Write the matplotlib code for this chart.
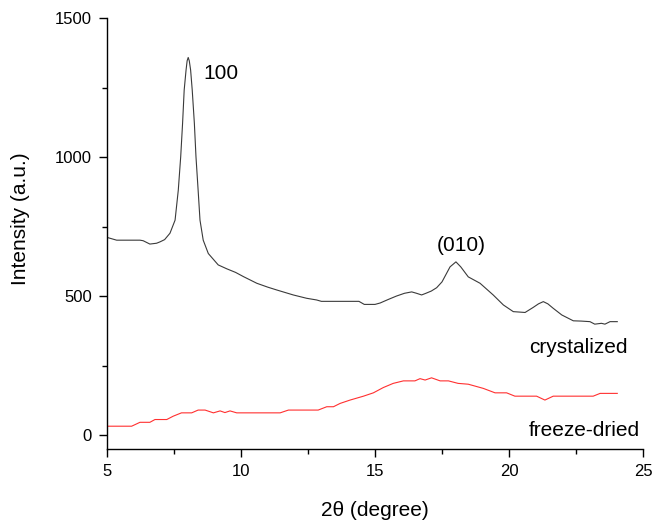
import matplotlib
matplotlib.use("Agg")
import matplotlib.pyplot as plt
from matplotlib.ticker import MultipleLocator

plt.rcParams['font.family'] = ['Liberation Sans', 'DejaVu Sans']

cryst_x = [5.0, 5.36, 6.23, 6.35, 6.6, 6.85, 6.98, 7.15, 7.35, 7.54, 7.66, 7.75, 7.82,
           7.88, 7.95, 7.99, 8.03, 8.07, 8.12, 8.18, 8.26, 8.32, 8.4, 8.47, 8.59, 8.78,
           9.15, 9.47, 9.8, 10.09, 10.59, 11.0, 11.33, 11.95, 12.45, 12.82, 13.0, 14.4,
           14.6, 15.0, 15.19, 15.5, 15.8, 16.1, 16.37, 16.55, 16.74, 16.9, 17.1, 17.3,
           17.5, 17.8, 18.02, 18.2, 18.48, 18.92, 19.41, 19.79, 20.16, 20.6, 20.9, 21.1,
           21.28, 21.45, 21.65, 21.97, 22.4, 22.7, 23.02, 23.2, 23.45, 23.58, 23.77, 24.04]
cryst_y = [711, 701, 701, 699, 687, 690, 695, 703, 726, 773, 881, 1001, 1121,
           1241, 1313, 1346, 1358, 1346, 1313, 1241, 1121, 1001, 881, 773, 701, 653,
           612, 598, 585, 570, 546, 532, 522, 504, 492, 486, 481, 481,
           470, 470, 475, 488, 500, 510, 515, 510, 504, 510, 518, 530,
           551, 605, 623, 605, 569, 546, 504, 468, 444, 441, 459, 472,
           480, 472, 456, 432, 411, 410, 408, 399, 402, 399, 408, 408]

freeze_x = [5.0, 5.92, 6.23, 6.6, 6.79, 7.23, 7.47, 7.78, 8.16, 8.4, 8.66, 8.97, 9.22,
            9.4, 9.59, 9.84, 11.46, 11.77, 12.88, 13.2, 13.45, 13.7, 14.07, 14.57, 14.94,
            15.31, 15.68, 16.06, 16.49, 16.68, 16.87, 17.11, 17.43, 17.74, 18.1, 18.48,
            19.04, 19.48, 19.91, 20.22, 21.03, 21.34, 21.65, 23.14, 23.4, 24.04]
freeze_y = [32, 32, 46, 46, 56, 56, 68, 80, 80, 90, 90, 80, 87,
            81, 87, 80, 80, 90, 90, 102, 102, 114, 126, 140, 152,
            171, 186, 195, 195, 203, 198, 206, 195, 195, 186, 183,
            168, 152, 152, 140, 140, 126, 140, 140, 150, 150]

x_ticks = [5, 10, 15, 20, 25]
y_ticks = [0, 500, 1000, 1500]

fig = plt.figure(figsize=(6.52, 5.29), dpi=100)
ax = fig.add_axes([107/652, 1 - 449/529, 536/652, 431/529])

ax.plot(cryst_x, cryst_y, color='#3a3a3a', lw=0.8)
ax.plot(freeze_x, freeze_y, color='#ff3030', lw=0.8)

ax.set_xlim(5, 25)
ax.set_ylim(-50, 1500)
ax.set_xticks(x_ticks)
ax.set_yticks(y_ticks)
ax.xaxis.set_minor_locator(MultipleLocator(2.5))
ax.yaxis.set_minor_locator(MultipleLocator(250))
ax.spines['top'].set_visible(False)
ax.spines['right'].set_visible(False)
for s in ['left', 'bottom']:
    ax.spines[s].set_linewidth(1.0)
ax.tick_params(which='major', direction='out', length=6, width=1.0, labelsize=12, pad=5)
ax.tick_params(which='minor', direction='out', length=3.5, width=1.0)

ax.text(8.58, 1302, '100', fontsize=15, ha='left', va='center')
ax.text(18.2, 683, '(010)', fontsize=15, ha='center', va='center')
ax.text(24.44, 316, 'crystalized', fontsize=15, ha='right', va='center')
ax.text(24.89, 18, 'freeze-dried', fontsize=15, ha='right', va='center')

fig.text(21/652, 1 - 219/529, 'Intensity (a.u.)', fontsize=15, rotation=90,
         ha='center', va='center')
fig.text(375/652, 1 - 511/529, '2θ (degree)', fontsize=15, ha='center', va='center')

fig.savefig('out.png', dpi=100)
